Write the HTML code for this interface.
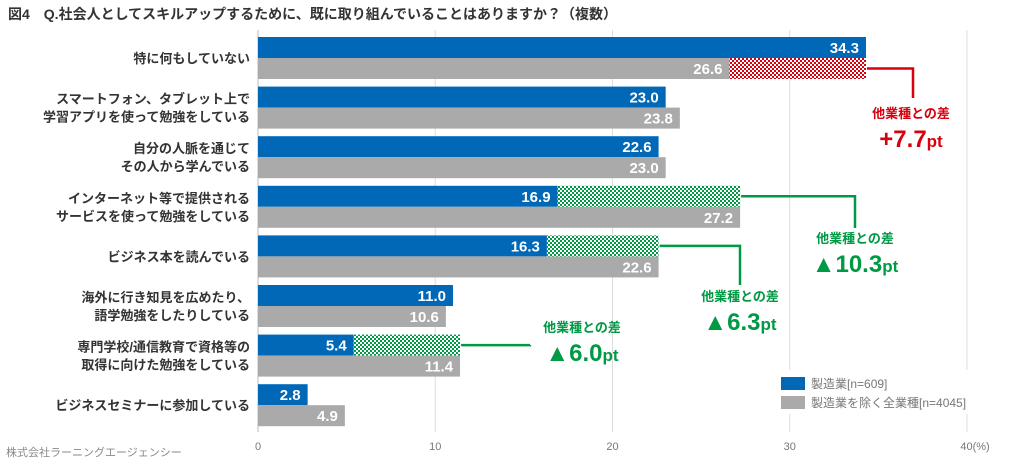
<!DOCTYPE html>
<html><head><meta charset="utf-8">
<style>
body{margin:0;background:#fff;width:1020px;height:464px;overflow:hidden;font-family:"Liberation Sans","Noto Sans CJK JP",sans-serif;}
svg{display:block}
</style></head>
<body>
<svg id="chart" width="1020" height="464" xmlns="http://www.w3.org/2000/svg">
<defs>
<pattern id="hatchRed" width="4" height="4" patternUnits="userSpaceOnUse"><rect width="4" height="4" fill="#fff"/><rect width="2" height="2" fill="#d7000f"/><rect x="2" y="2" width="2" height="2" fill="#d7000f"/></pattern>
<pattern id="hatchGreen" width="4" height="4" patternUnits="userSpaceOnUse"><rect width="4" height="4" fill="#fff"/><rect width="2" height="2" fill="#009944"/><rect x="2" y="2" width="2" height="2" fill="#009944"/></pattern>
</defs>
<text x="8" y="19" font-size="14" font-weight="bold" fill="#333">図4　Q.社会人としてスキルアップするために、既に取り組んでいることはありますか？（複数）</text>
<g id="grid"></g>
<g id="bars"></g>
<g id="labels"></g>
<g id="ann"></g>
<rect x="772" y="370" width="200" height="44" fill="#fff"/>
<rect x="781" y="377" width="24" height="13" fill="#0068b7"/>
<text x="811" y="388" font-size="12" fill="#777">製造業[n=609]</text>
<rect x="781" y="396" width="24" height="13" fill="#aaaaaa"/>
<text x="811" y="407" font-size="12" fill="#777">製造業を除く全業種[n=4045]</text>
<text x="6" y="456" font-size="11" fill="#888">株式会社ラーニングエージェンシー</text>
</svg>
<script>
const categories=[["特に何もしていない"],["スマートフォン、タブレット上で","学習アプリを使って勉強をしている"],["自分の人脈を通じて","その人から学んでいる"],["インターネット等で提供される","サービスを使って勉強をしている"],["ビジネス本を読んでいる"],["海外に行き知見を広めたり、","語学勉強をしたりしている"],["専門学校/通信教育で資格等の","取得に向けた勉強をしている"],["ビジネスセミナーに参加している"]];
const manufacturing=[34.3,23.0,22.6,16.9,16.3,11.0,5.4,2.8];
const others=[26.6,23.8,23.0,27.2,22.6,10.6,11.4,4.9];
const ticks=[0,10,20,30,40];
const tickLabels=["0","10","20","30","40(%)"];
const diffs=[{row:0,text:"+7.7pt",color:"#d7000f"},{row:3,text:"▲10.3pt",color:"#009944"},{row:4,text:"▲6.3pt",color:"#009944"},{row:6,text:"▲6.0pt",color:"#009944"}];
const annoPos=[{lx:913,ly:98,tx:911,ty:118},{lx:855,ly:228,tx:855,ty:243},{lx:740,ly:285,tx:740,ty:301},{lx:530,ly:345,tx:582,ty:332}];

const NS="http://www.w3.org/2000/svg";
const x0=258,xs=(967-258)/40;
const X=v=>x0+v*xs;
const rowY=i=>37+i*49.6;
const bh=21;
function el(tag,attrs,parent,txt){const e=document.createElementNS(NS,tag);for(const k in attrs)e.setAttribute(k,attrs[k]);if(txt!==undefined)e.textContent=txt;parent.appendChild(e);return e;}
const grid=document.getElementById('grid'),bars=document.getElementById('bars'),labels=document.getElementById('labels'),ann=document.getElementById('ann');
ticks.forEach((t,i)=>{
  const l=el('line',{x1:X(t),x2:X(t),y1:30,y2:432,stroke:i==0?'#bbb':'#ddd','stroke-width':1},grid);
  
  
  const tx=el('text',{x:X(t)+(i==ticks.length-1?8:0),y:450,'font-size':11,fill:'#777','text-anchor':'middle'},grid,tickLabels[i]);
  
  
});
categories.forEach((c,i)=>{
  const y=rowY(i),m=manufacturing[i],o=others[i];
  const b1=el('rect',{x:x0,y:y,width:X(m)-x0,height:bh,fill:'#0068b7'},bars);
  
  
  const b2=el('rect',{x:x0,y:y+bh,width:X(o)-x0,height:bh,fill:'#aaaaaa'},bars);
  
  
  const t1=el('text',{x:X(m)-7,y:y+16,'font-size':15,'font-weight':'bold',fill:'#fff','text-anchor':'end'},labels,m.toFixed(1));
  
  
  const t2=el('text',{x:X(o)-7,y:y+bh+16,'font-size':15,'font-weight':'bold',fill:'#fff','text-anchor':'end'},labels,o.toFixed(1));
  
  
  const cy=y+bh;
  c.forEach((line,j)=>{
    const ly=c.length==1?cy+5:cy-4+j*18;
    const ct=el('text',{x:250,y:ly,'font-size':13,'font-weight':'bold',fill:'#333','text-anchor':'end'},labels,line);
    
    
  });
});
diffs.forEach((d,k)=>{
  const i=d.row,y=rowY(i),m=manufacturing[i],o=others[i];
  const lo=Math.min(m,o),hi=Math.max(m,o);
  const hy=m<o?y:y+bh;
  const h=el('rect',{x:X(lo),y:hy,width:X(hi)-X(lo),height:bh,fill:d.color=='#d7000f'?'url(#hatchRed)':'url(#hatchGreen)'},bars);
  
  
  const p=annoPos[k],my=hy+bh/2;
  const ln=el('polyline',{points:`${X(hi)+1},${my} ${p.lx},${my} ${p.lx},${p.ly}`,fill:'none',stroke:d.color,'stroke-width':2.5},ann);
  
  
  const a=el('text',{x:p.tx,y:p.ty,'font-size':13,'font-weight':'bold',fill:d.color,'text-anchor':'middle'},ann,'他業種との差');
  
  
  const v=el('text',{x:p.tx,y:p.ty+29,'font-size':24,'font-weight':'bold',fill:d.color,'text-anchor':'middle'},ann);
  
  
  const num=d.text.replace('pt','');
  el('tspan',{},v,num);
  el('tspan',{'font-size':17},v,'pt');
});
</script>
</body></html>
